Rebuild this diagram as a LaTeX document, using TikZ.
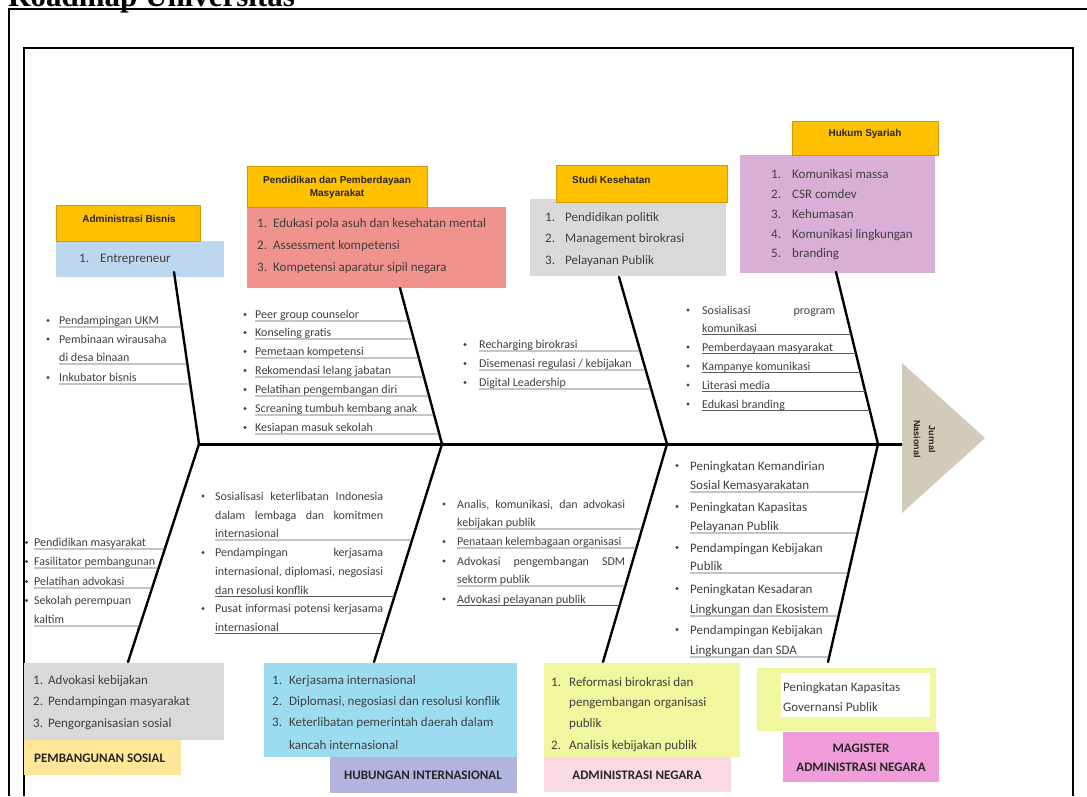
\documentclass[tikz,border=0pt]{standalone}
\usepackage{fontspec}
\setmainfont{Carlito}
\newfontfamily\arl{Liberation Sans}
\newfontfamily\srf{Liberation Serif}
\usetikzlibrary{calc}
\definecolor{orangeF}{HTML}{FFC000}
\definecolor{orangeD}{HTML}{CC9A06}
\definecolor{blueF}{HTML}{BDD7EE}
\definecolor{redF}{HTML}{F0928E}
\definecolor{grayF}{HTML}{D9D9D9}
\definecolor{purpF}{HTML}{D9AED7}
\definecolor{ylwF}{HTML}{FFE699}
\definecolor{cyanF}{HTML}{9CDCF1}
\definecolor{lavF}{HTML}{B3B3DF}
\definecolor{lyF}{HTML}{F1F79E}
\definecolor{pinkF}{HTML}{FAD9E2}
\definecolor{magF}{HTML}{F19CDA}
\definecolor{triF}{HTML}{D3CBBA}
\definecolor{txtgray}{HTML}{404040}
\definecolor{labk}{HTML}{262626}
\definecolor{ulc}{HTML}{5A5A5A}
\newcount\tn
\newcommand\tl[4][tx]{\global\advance\tn by 1\relax\node[#1] (t\the\tn) at (#2,#3) {#4};}
\newcommand\bu[2]{\fill[txtgray] (#1,#2) circle[radius=1.6pt];}
\newcommand\jb[2]{\makebox[#1][s]{#2}}
\newcommand\ulto[6]{\draw[ulst] (#5,#6) -- ($(#1)!{(#6-#3)/(#4-#3)}!(#2)$);}
\newcommand\ulA[2]{\ulto{bAt}{bAb}{272}{444}{#1}{#2}}
\newcommand\ulB[2]{\ulto{bBt}{bBb}{288}{444}{#1}{#2}}
\newcommand\ulC[2]{\ulto{bCt}{bCb}{277}{444}{#1}{#2}}
\newcommand\ulD[2]{\ulto{bDt}{bDb}{272}{444}{#1}{#2}}
\newcommand\ulE[2]{\ulto{lAt}{lAb}{444}{662}{#1}{#2}}
\newcommand\ulF[2]{\ulto{lBt}{lBb}{444}{662}{#1}{#2}}
\newcommand\ulG[2]{\ulto{lCt}{lCb}{444}{662}{#1}{#2}}
\newcommand\ulH[2]{\ulto{lDt}{lDb}{444}{662}{#1}{#2}}
\begin{document}
\begin{tikzpicture}[x=1pt,y=-1pt,
  tx/.style={anchor=base west, inner sep=0pt, text=txtgray, font=\fontsize{12}{14}\selectfont},
  txb/.style={anchor=base west, inner sep=0pt, text=txtgray, font=\fontsize{13}{15}\selectfont},
  bx/.style={anchor=north west, inner sep=0pt, outer sep=0pt, draw=none},
  obx/.style={bx, fill=orangeF, draw=orangeD, line width=1pt},
  olab/.style={inner sep=0pt, text=labk, font=\arl\bfseries\fontsize{10}{12}\selectfont},
  blab/.style={inner sep=0pt, text=labk, font=\bfseries\fontsize{13}{15}\selectfont},
  frame/.style={line width=2.5pt, black},
  bone/.style={line width=2.4pt, black},
  ulst/.style={line width=0.9pt, ulc}]
\useasboundingbox (0,0) rectangle (1087,796);
\fill[white] (0,0) rectangle (1087,796);
% title (cut at the top)
\node[anchor=base west, inner sep=0pt, font=\srf\bfseries\fontsize{31}{31}\selectfont] (title) at (8,6) {Roadmap Universitas};
% frames
\draw[frame] (9,796) -- (9,9) -- (1087,9);
\draw[frame] (24,120) -- (24,48) -- (1073,48) -- (1073,796);
\draw[line width=1.5pt] (24,120) -- (24,796);
% ---------- top boxes ----------
\node[bx, fill=blueF, minimum width=168pt, minimum height=36pt] (admB) at (56,241) {};
\node[obx, minimum width=144pt, minimum height=36pt] (admO) at (56,205) {};
\node[olab] (admL) at (129,219) {Administrasi Bisnis};
\tl[txb]{79}{262}{1.}\tl[txb]{100}{262}{Entrepreneur}

\node[bx, fill=redF, minimum width=259pt, minimum height=81pt] (pddR) at (247,207) {};
\node[obx, minimum width=180pt, minimum height=41pt] (pddO) at (247,166) {};
\node[olab] (pddL1) at (337,181) {Pendidikan dan Pemberdayaan};
\node[olab] (pddL2) at (337,194) {Masyarakat};
\tl[txb]{257}{227.5}{1.}\tl[txb]{273}{227.5}{Edukasi pola asuh dan kesehatan mental}
\tl[txb]{257}{249.5}{2.}\tl[txb]{273}{249.5}{Assessment kompetensi}
\tl[txb]{257}{271.5}{3.}\tl[txb]{273}{271.5}{Kompetensi aparatur sipil negara}

\node[bx, fill=grayF, minimum width=196pt, minimum height=77pt] (stdG) at (530,199) {};
\node[obx, minimum width=171pt, minimum height=37pt] (stdO) at (556,165) {};
\node[olab, anchor=west] (stdL) at (572,180) {Studi Kesehatan};
\tl[txb]{545}{221.5}{1.}\tl[txb]{565}{221.5}{Pendidikan politik}
\tl[txb]{545}{242.5}{2.}\tl[txb]{565}{242.5}{Management birokrasi}
\tl[txb]{545}{264.5}{3.}\tl[txb]{565}{264.5}{Pelayanan Publik}

\node[bx, fill=purpF, minimum width=195pt, minimum height=118pt] (hukP) at (740,155) {};
\node[obx, minimum width=146pt, minimum height=34pt] (hukO) at (792,121) {};
\node[olab] (hukL) at (865,134) {Hukum Syariah};
\tl[txb]{771}{178.5}{1.}\tl[txb]{792}{178.5}{Komunikasi massa}
\tl[txb]{771}{198.5}{2.}\tl[txb]{792}{198.5}{CSR comdev}
\tl[txb]{771}{218}{3.}\tl[txb]{792}{218}{Kehumasan}
\tl[txb]{771}{238}{4.}\tl[txb]{792}{238}{Komunikasi lingkungan}
\tl[txb]{771}{257.5}{5.}\tl[txb]{792}{257.5}{branding}
% ---------- bottom boxes ----------
\node[bx, fill=grayF, minimum width=200pt, minimum height=77pt] (psG) at (24,663) {};
\node[bx, fill=ylwF, minimum width=157pt, minimum height=35pt] (psY) at (24,740) {};
\node[blab, anchor=west] (psL) at (34,758) {PEMBANGUNAN SOSIAL};
\tl[txb]{33}{684.5}{1.}\tl[txb]{48}{684.5}{Advokasi kebijakan}
\tl[txb]{33}{705.5}{2.}\tl[txb]{48}{705.5}{Pendampingan masyarakat}
\tl[txb]{33}{727.5}{3.}\tl[txb]{48}{727.5}{Pengorganisasian sosial}

\node[bx, fill=cyanF, minimum width=253pt, minimum height=94pt] (hiC) at (264,663) {};
\node[bx, fill=lavF, minimum width=187pt, minimum height=36pt] (hiL) at (330,757) {};
\node[blab] (hiT) at (423,775) {HUBUNGAN INTERNASIONAL};
\tl[txb]{272}{684.5}{1.}\tl[txb]{289}{684.5}{Kerjasama internasional}
\tl[txb]{272}{705.5}{2.}\tl[txb]{289}{705.5}{Diplomasi, negosiasi dan resolusi konflik}
\tl[txb]{272}{726.5}{3.}\tl[txb]{289}{726.5}{Keterlibatan pemerintah daerah dalam}
\tl[txb]{289}{749}{kancah internasional}

\node[bx, fill=lyF, minimum width=196pt, minimum height=94pt] (anY) at (544,663) {};
\node[bx, fill=pinkF, minimum width=187pt, minimum height=35pt] (anP) at (544,757) {};
\node[blab] (anT) at (637,775) {ADMINISTRASI NEGARA};
\tl[txb]{551}{686.5}{1.}\tl[txb]{569}{686.5}{Reformasi birokrasi dan}
\tl[txb]{569}{706.5}{pengembangan organisasi}
\tl[txb]{569}{727.5}{publik}
\tl[txb]{551}{749.5}{2.}\tl[txb]{569}{749.5}{Analisis kebijakan publik}

\node[bx, fill=lyF, minimum width=179pt, minimum height=63pt] (maY) at (757,668) {};
\node[bx, fill=white, minimum width=149pt, minimum height=44pt] (maW) at (781,673) {};
\tl[txb]{783}{691.5}{Peningkatan Kapasitas}
\tl[txb]{783}{711.5}{Governansi Publik}
\node[bx, fill=magF, minimum width=156pt, minimum height=50pt] (maM) at (783,732) {};
\node[blab] (maT1) at (861,748) {MAGISTER};
\node[blab] (maT2) at (861,767) {ADMINISTRASI NEGARA};
% ---------- skeleton ----------
\coordinate (bAt) at (174,272); \coordinate (bAb) at (199,444);
\coordinate (bBt) at (400,288); \coordinate (bBb) at (442,444);
\coordinate (bCt) at (619,277); \coordinate (bCb) at (667,444);
\coordinate (bDt) at (836,272); \coordinate (bDb) at (878,444);
\coordinate (lAt) at (199,444); \coordinate (lAb) at (128,662);
\coordinate (lBt) at (442,444); \coordinate (lBb) at (374,662);
\coordinate (lCt) at (667,444); \coordinate (lCb) at (603,662);
\coordinate (lDt) at (878,444); \coordinate (lDb) at (828,662);
\coordinate (sp0) at (199,444.5); \coordinate (sp1) at (902,444.5);
\coordinate (h1) at (902,363); \coordinate (h2) at (985,438); \coordinate (h3) at (902,513);
\fill[triF] (h1) -- (h2) -- (h3) -- cycle;
\node[rotate=-90, inner sep=0pt, text=labk, font=\arl\bfseries\fontsize{9}{11}\selectfont] (jur1) at (932,439) {Jurnal};
\node[rotate=-90, inner sep=0pt, text=labk, font=\arl\bfseries\fontsize{9}{11}\selectfont] (jur2) at (917,439) {Nasional};
\draw[line width=3pt] (sp0) -- (sp1);
\foreach \b in {bA,bB,bC,bD,lA,lB,lC,lD} \draw[bone, line cap=round] (\b t) -- (\b b);
% ---------- upper group 1 ----------
\bu{48}{320.5}\tl{59}{324.5}{Pendampingan UKM}\ulA{59}{327}
\bu{48}{339}\tl{59}{343}{Pembinaan wirausaha}
\tl{59}{361.5}{di desa binaan}\ulA{59}{364}
\bu{48}{377.5}\tl{59}{381.5}{Inkubator bisnis}\ulA{59}{384}
% ---------- upper group 2 ----------
\bu{245}{314.5}\tl{255}{318.5}{Peer group counselor}\ulB{255}{321}
\bu{245}{332.5}\tl{255}{336.5}{Konseling gratis}\ulB{255}{339}
\bu{245}{351.5}\tl{255}{355.5}{Pemetaan kompetensi}\ulB{255}{358}
\bu{245}{370.5}\tl{255}{374.5}{Rekomendasi lelang jabatan}\ulB{255}{377}
\bu{245}{389.5}\tl{255}{393.5}{Pelatihan pengembangan diri}\ulB{255}{396}
\bu{245}{408.5}\tl{255}{412.5}{Screaning tumbuh kembang anak}\ulB{255}{415}
\bu{245}{427.5}\tl{255}{431.5}{Kesiapan masuk sekolah}\ulB{255}{434}
% ---------- upper group 3 ----------
\bu{465}{344.5}\tl{479}{348.5}{Recharging birokrasi}\ulC{479}{351}
\bu{465}{363.5}\tl{479}{367.5}{Disemenasi regulasi / kebijakan}\ulC{479}{370}
\bu{465}{382.5}\tl{479}{386.5}{Digital Leadership}\ulC{479}{389}
% ---------- upper group 4 ----------
\bu{688}{310}\tl{702}{314}{\jb{133pt}{Sosialisasi program}}
\tl{702}{332}{komunikasi}\ulD{702}{334.5}
\bu{688}{347}\tl{702}{351}{Pemberdayaan masyarakat}\ulD{702}{353.5}
\bu{688}{366}\tl{702}{370}{Kampanye komunikasi}\ulD{702}{372.5}
\bu{688}{385}\tl{702}{389}{Literasi media}\ulD{702}{391.5}
\bu{688}{404}\tl{702}{408}{Edukasi branding}\ulD{702}{410.5}
% ---------- lower group 1 ----------
\bu{26.5}{542.5}\tl{34}{546.5}{Pendidikan masyarakat}\ulE{34}{549}
\bu{26.5}{561.5}\tl{34}{565.5}{Fasilitator pembangunan}\ulE{34}{568}
\bu{26.5}{581.5}\tl{34}{585.5}{Pelatihan advokasi}\ulE{34}{588}
\bu{26.5}{600.5}\tl{34}{604.5}{Sekolah perempuan}
\tl{34}{623.5}{kaltim}\ulE{34}{626}
% ---------- lower group 2 ----------
\bu{203}{496}\tl{215}{500}{\jb{168pt}{Sosialisasi keterlibatan Indonesia}}
\tl{215}{519}{\jb{168pt}{dalam lembaga dan komitmen}}
\tl{215}{537.5}{internasional}\ulF{215}{540}
\bu{203}{552.5}\tl{215}{556.5}{\jb{168pt}{Pendampingan kerjasama}}
\tl{215}{575}{\jb{168pt}{internasional, diplomasi, negosiasi}}
\tl{215}{594}{dan resolusi konflik}\ulF{215}{596.5}
\bu{203}{608.5}\tl{215}{612.5}{\jb{168pt}{Pusat informasi potensi kerjasama}}
\tl{215}{631}{internasional}\ulF{215}{633.5}
% ---------- lower group 3 ----------
\bu{444}{504}\tl{457}{508}{\jb{168pt}{Analis, komunikasi, dan advokasi}}
\tl{457}{526.5}{kebijakan publik}\ulG{457}{529}
\bu{444}{541.5}\tl{457}{545.5}{Penataan kelembagaan organisasi}\ulG{457}{548}
\bu{444}{561}\tl{457}{565}{\jb{168pt}{Advokasi pengembangan SDM}}
\tl{457}{583.5}{sektorm publik}\ulG{457}{586}
\bu{444}{599}\tl{457}{603}{Advokasi pelayanan publik}\ulG{457}{605.5}
% ---------- lower group 4 ----------
\bu{677}{465.5}\tl[txb]{690}{470}{Peningkatan Kemandirian}
\tl[txb]{690}{489.5}{Sosial Kemasyarakatan}\ulH{690}{492}
\bu{677}{506.5}\tl[txb]{690}{511}{Peningkatan Kapasitas}
\tl[txb]{690}{530.5}{Pelayanan Publik}\ulH{690}{533}
\bu{677}{547.5}\tl[txb]{690}{552}{Pendampingan Kebijakan}
\tl[txb]{690}{570.5}{Publik}\ulH{690}{573}
\bu{677}{588.5}\tl[txb]{690}{593}{Peningkatan Kesadaran}
\tl[txb]{690}{613.5}{Lingkungan dan Ekosistem}\ulH{690}{616}
\bu{677}{629.5}\tl[txb]{690}{634}{Pendampingan Kebijakan}
\tl[txb]{690}{654.5}{Lingkungan dan SDA}\ulH{690}{657}
\end{tikzpicture}
\end{document}
